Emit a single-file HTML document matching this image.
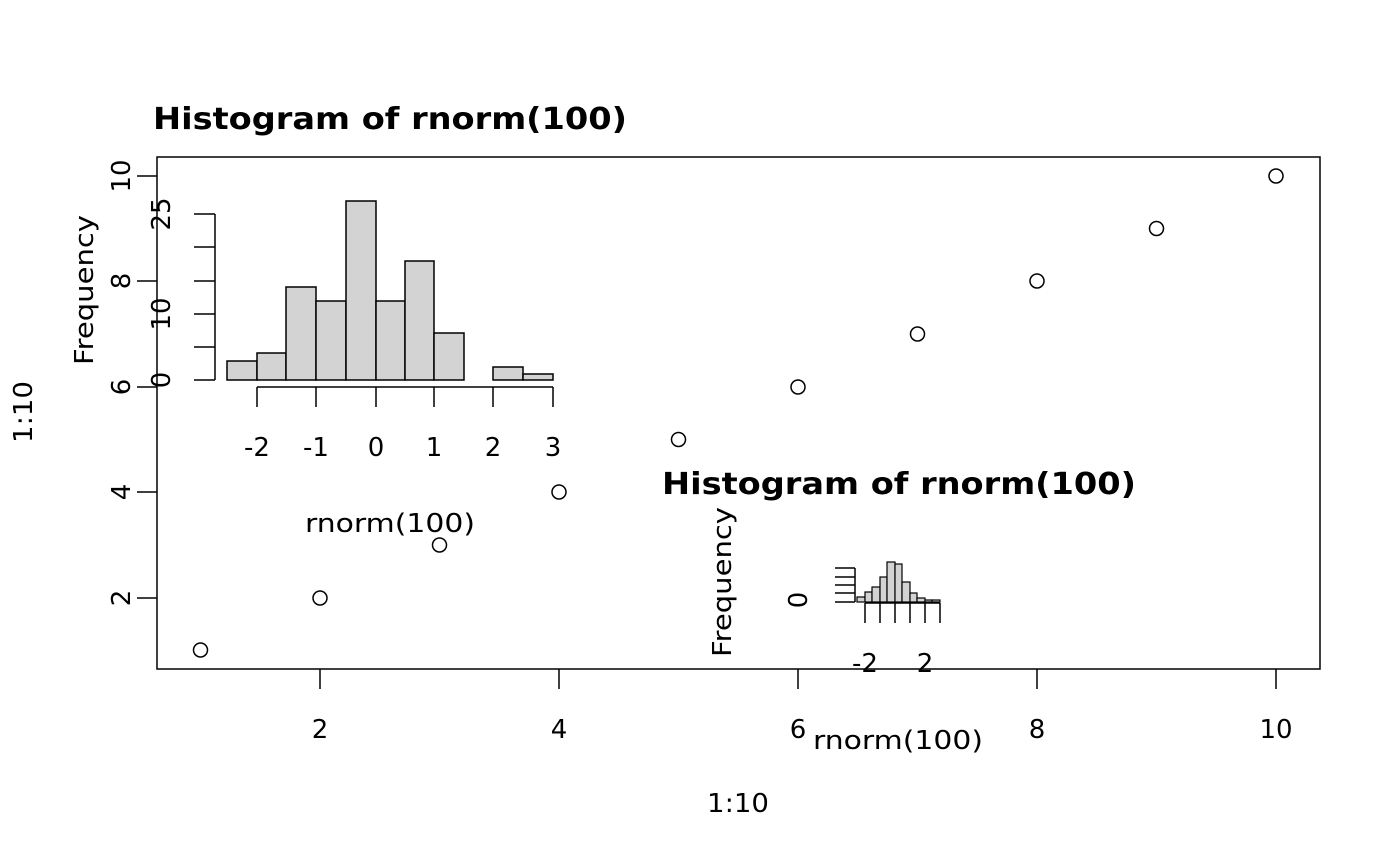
<!DOCTYPE html>
<html><head><style>body{margin:0;background:#fff}svg{display:block}text{font-family:"DejaVu Sans","Liberation Sans",sans-serif;fill:#000}</style></head><body>
<svg width="1400" height="866" viewBox="0 0 1400 866" xmlns="http://www.w3.org/2000/svg">
<g stroke="#000" stroke-width="1.5" fill="none">
<rect x="157" y="157" width="1163" height="512"/>
<path d="M320 669v20M559 669v20M798 669v20M1037 669v20M1276 669v20"/>
<path d="M157 598h-20M157 492h-20M157 387h-20M157 281h-20M157 176h-20"/>
<circle cx="200.5" cy="650" r="7"/><circle cx="320" cy="598" r="7"/><circle cx="439.5" cy="545" r="7"/><circle cx="559" cy="492" r="7"/><circle cx="678.5" cy="439.5" r="7"/><circle cx="798" cy="387" r="7"/><circle cx="917.5" cy="334" r="7"/><circle cx="1037" cy="281" r="7"/><circle cx="1156.5" cy="228.5" r="7"/><circle cx="1276" cy="176" r="7"/>
</g>
<g font-size="26" text-anchor="middle">
<text x="320" y="738">2</text><text x="559" y="738">4</text><text x="798" y="738">6</text><text x="1037" y="738">8</text><text x="1276" y="738">10</text>
<text transform="translate(130,598) rotate(-90)">2</text>
<text transform="translate(130,492) rotate(-90)">4</text>
<text transform="translate(130,387) rotate(-90)">6</text>
<text transform="translate(130,281) rotate(-90)">8</text>
<text transform="translate(130,176) rotate(-90)">10</text>
<text x="738" y="812" textLength="62" lengthAdjust="spacingAndGlyphs">1:10</text>
<text transform="translate(32,412) rotate(-90)" textLength="62" lengthAdjust="spacingAndGlyphs">1:10</text>
</g>
<g stroke="#000" stroke-width="1.5" fill="#d3d3d3">
<rect x="227" y="361" width="30" height="19"/>
<rect x="257" y="353" width="29" height="27"/>
<rect x="286" y="287" width="30" height="93"/>
<rect x="316" y="301" width="30" height="79"/>
<rect x="346" y="201" width="30" height="179"/>
<rect x="376" y="301" width="29" height="79"/>
<rect x="405" y="261" width="29" height="119"/>
<rect x="434" y="333" width="30" height="47"/>
<rect x="493" y="367" width="30" height="13"/>
<rect x="523" y="374" width="30" height="6"/>
</g>
<g stroke="#000" stroke-width="1.5" fill="none">
<path d="M215 214v166M215 214h-21M215 247h-21M215 281h-21M215 314h-21M215 347h-21M215 380h-21"/>
<path d="M257 387h296M257 387v20M316 387v20M376 387v20M434 387v20M493 387v20M553 387v20"/>
</g>
<g font-size="26" text-anchor="middle">
<text x="257" y="456">-2</text><text x="316" y="456">-1</text><text x="376" y="456">0</text><text x="434" y="456">1</text><text x="493" y="456">2</text><text x="553" y="456">3</text>
<text transform="translate(170,380) rotate(-90)">0</text>
<text transform="translate(170,314) rotate(-90)">10</text>
<text transform="translate(170,214) rotate(-90)">25</text>
<text transform="translate(93,290) rotate(-90)" textLength="150" lengthAdjust="spacingAndGlyphs">Frequency</text>
<text x="390" y="532" textLength="170" lengthAdjust="spacingAndGlyphs">rnorm(100)</text>
</g>
<text x="153" y="129" font-size="30" font-weight="bold" textLength="474" lengthAdjust="spacingAndGlyphs">Histogram of rnorm(100)</text>
<g stroke="#000" stroke-width="1.2" fill="#d3d3d3">
<rect x="857" y="597" width="8" height="5"/>
<rect x="865" y="592" width="7" height="10"/>
<rect x="872" y="587" width="8" height="15"/>
<rect x="880" y="577" width="7" height="25"/>
<rect x="887" y="562" width="8" height="40"/>
<rect x="895" y="564" width="7" height="38"/>
<rect x="902" y="582" width="8" height="20"/>
<rect x="910" y="593" width="7" height="9"/>
<rect x="917" y="598" width="8" height="4"/>
<rect x="925" y="600" width="7" height="2"/>
<rect x="932" y="600" width="8" height="2"/>
</g>
<g stroke="#000" stroke-width="1.5" fill="none">
<path d="M855 568v34M855 568h-20M855 577h-20M855 585h-20M855 593h-20M855 602h-20"/>
<path d="M865 603h75M865 603v20M880 603v20M895 603v20M910 603v20M925 603v20M940 603v20"/>
</g>
<g font-size="26" text-anchor="middle">
<text x="865" y="672">-2</text><text x="925" y="672">2</text>
<text transform="translate(807,600) rotate(-90)">0</text>
<text transform="translate(731,582) rotate(-90)" textLength="150" lengthAdjust="spacingAndGlyphs">Frequency</text>
<text x="898" y="749" textLength="170" lengthAdjust="spacingAndGlyphs">rnorm(100)</text>
</g>
<text x="662" y="494" font-size="30" font-weight="bold" textLength="474" lengthAdjust="spacingAndGlyphs">Histogram of rnorm(100)</text>
</svg>
</body></html>
